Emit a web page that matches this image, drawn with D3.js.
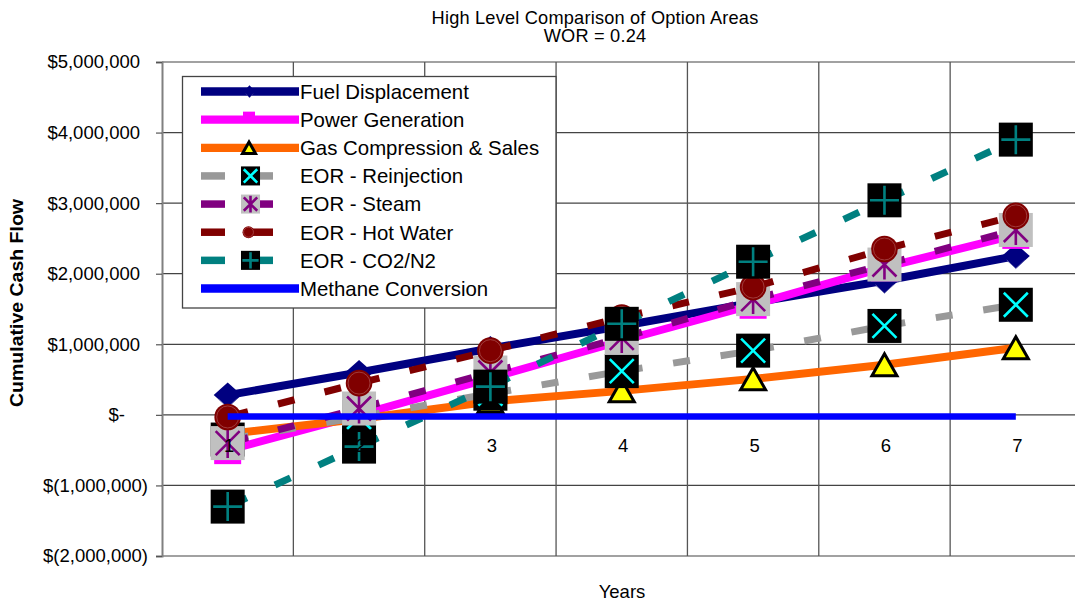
<!DOCTYPE html>
<html>
<head>
<meta charset="utf-8">
<script src="https://cdn.jsdelivr.net/npm/d3@7"></script>
<style>
  html, body { margin: 0; padding: 0; background: #fff; }
  svg { display: block; font-family: "Liberation Sans", Arial, sans-serif; }
</style>
</head>
<body>
<svg id="chart" width="1075" height="602"></svg>
<script>
// ---- data -------------------------------------------------------------
const years = [1, 2, 3, 4, 5, 6, 7];

const fuelDisplacement = [280000, 600000, 940000, 1260000, 1590000, 1900000, 2250000];
const powerGeneration  = [-500000, 0, 520000, 1050000, 1560000, 2090000, 2550000];
const gasCompression   = [-270000, -60000, 190000, 340000, 510000, 710000, 950000];
const eorReinjection   = [-350000, -30000, 300000, 620000, 910000, 1260000, 1560000];
const eorSteam         = [-400000, 90000, 600000, 1090000, 1640000, 2130000, 2620000];
const eorHotWater      = [-30000, 450000, 910000, 1380000, 1810000, 2350000, 2820000];
const eorCO2N2         = [-1300000, -450000, 400000, 1290000, 2170000, 3040000, 3900000];
const methaneConversion = [-25000, -25000, -25000, -25000, -25000, -25000, -25000];

const seriesNames = [
  "Fuel Displacement", "Power Generation", "Gas Compression & Sales",
  "EOR - Reinjection", "EOR - Steam", "EOR - Hot Water", "EOR - CO2/N2",
  "Methane Conversion"
];

const yTicks = [-2000000, -1000000, 0, 1000000, 2000000, 3000000, 4000000, 5000000];

const titleLines = ["High Level Comparison of Option Areas", "WOR = 0.24"];
const xTitle = "Years";
const yTitle = "Cumulative Cash Flow";

// ---- layout -----------------------------------------------------------
const svg = d3.select("#chart");
const plot = { left: 162, right: 1081.5, top: 62, bottom: 556 };

const x = d3.scaleBand().domain(years).range([plot.left, plot.right]).padding(0);
const y = d3.scaleLinear().domain([-2000000, 5000000]).range([plot.bottom, plot.top]);
const cx = d => x(d) + x.bandwidth() / 2;

// ---- marker painters (drawn around 0,0) -------------------------------
const markers = {
  diamond(g) {
    g.append("path").attr("d", "M0,-12.5L14,0L0,12.5L-14,0Z").attr("fill", "#000080");
    g.append("path").attr("d", "M-9,4L0,12.5L9,4").attr("fill", "none")
      .attr("stroke", "#6a6ab0").attr("stroke-width", 0.8);
  },
  dash(g) {
    g.append("rect").attr("x", -13.5).attr("y", 8).attr("width", 27).attr("height", 6)
      .attr("fill", "#ff00ff");
  },
  triangle(g) {
    g.append("path").attr("d", "M0,-11L12.5,11L-12.5,11Z").attr("fill", "#ffff00")
      .attr("stroke", "#000").attr("stroke-width", 3).attr("stroke-linejoin", "miter")
      .attr("vector-effect", "non-scaling-stroke");
  },
  crossBox(g) {
    g.append("rect").attr("x", -17).attr("y", -17).attr("width", 34).attr("height", 34).attr("fill", "#000");
    g.append("path").attr("d", "M-12,-12L12,12M12,-12L-12,12").attr("stroke", "#00ffff")
      .attr("stroke-width", 2.6).attr("vector-effect", "non-scaling-stroke");
  },
  starBox(g) {
    g.append("rect").attr("x", -17).attr("y", -17).attr("width", 34).attr("height", 34).attr("fill", "#c0c0c0");
    g.append("path").attr("d", "M-12,-12L12,12M12,-12L-12,12M0,-15L0,15").attr("stroke", "#800080")
      .attr("stroke-width", 2.6).attr("vector-effect", "non-scaling-stroke");
  },
  circle(g) {
    g.append("circle").attr("r", 13.3).attr("fill", "#800000");
    g.append("circle").attr("r", 11).attr("fill", "none").attr("stroke", "#a84a4a")
      .attr("stroke-width", 0.8).attr("vector-effect", "non-scaling-stroke");
  },
  plusBox(g) {
    g.append("rect").attr("x", -17).attr("y", -17).attr("width", 34).attr("height", 34).attr("fill", "#000");
    g.append("path").attr("d", "M-14.5,0L14.5,0M0,-14.5L0,14.5").attr("stroke", "#008080")
      .attr("stroke-width", 2.6).attr("vector-effect", "non-scaling-stroke");
  },
  none() {}
};

const series = [
  { name: seriesNames[0], values: fuelDisplacement,  color: "#000080", width: 8,   dashed: false, marker: "diamond" },
  { name: seriesNames[1], values: powerGeneration,   color: "#ff00ff", width: 8,   dashed: false, marker: "dash" },
  { name: seriesNames[2], values: gasCompression,    color: "#ff6600", width: 8,   dashed: false, marker: "triangle" },
  { name: seriesNames[3], values: eorReinjection,    color: "#999999", width: 7,   dashed: true,  marker: "crossBox" },
  { name: seriesNames[4], values: eorSteam,          color: "#800080", width: 7,   dashed: true,  marker: "starBox" },
  { name: seriesNames[5], values: eorHotWater,       color: "#800000", width: 7,   dashed: true,  marker: "circle" },
  { name: seriesNames[6], values: eorCO2N2,          color: "#008080", width: 7,   dashed: true,  marker: "plusBox" },
  { name: seriesNames[7], values: methaneConversion, color: "#0000ff", width: 6.5, dashed: false, marker: "none" }
];

// ---- gridlines & axes -------------------------------------------------
const grid = svg.append("g");
grid.selectAll("line.h").data(yTicks).join("line")
  .attr("x1", plot.left).attr("x2", 1075)
  .attr("y1", d => y(d)).attr("y2", d => y(d))
  .attr("stroke", "#444").attr("stroke-width", 1.2);

grid.selectAll("line.v").data(years).join("line")
  .attr("x1", d => x(d) + x.bandwidth()).attr("x2", d => x(d) + x.bandwidth())
  .attr("y1", plot.top).attr("y2", plot.bottom)
  .attr("stroke", "#555").attr("stroke-width", 1.3);

const moneyFmt = d3.format(",");
const yAxis = d3.axisLeft(y).tickValues(yTicks).tickSize(6).tickPadding(0)
  .tickFormat(v => v > 0 ? "$" + moneyFmt(v) : v < 0 ? "$(" + moneyFmt(-v) + ")" : "$-");
const yAxisG = svg.append("g").attr("transform", `translate(${plot.left},0)`).call(yAxis);
yAxisG.select(".domain").attr("stroke", "#808080").attr("stroke-width", 2);
yAxisG.selectAll(".tick line").attr("stroke", "#555").attr("stroke-width", 1.2);
yAxisG.selectAll(".tick text")
  .attr("font-size", 18.5).attr("fill", "#000")
  .attr("font-family", "'Liberation Sans', Arial, sans-serif")
  .attr("x", d => d > 0 ? -22 : d < 0 ? -14 : -37);

// ---- series -----------------------------------------------------------
const lineGen = d3.line().x(d => cx(d.year)).y(d => y(d.value));

series.forEach(s => {
  const pts = years.map((yr, i) => ({ year: yr, value: s.values[i] }));
  const g = svg.append("g");
  if (s.dashed) {
    // each segment restarts its dash pattern at the data point
    d3.pairs(pts).forEach(seg => {
      g.append("path").attr("d", lineGen(seg)).attr("fill", "none")
        .attr("stroke", s.color).attr("stroke-width", s.width)
        .attr("stroke-dasharray", "17 31").attr("stroke-dashoffset", 44);
    });
  } else {
    g.append("path").attr("d", lineGen(pts)).attr("fill", "none")
      .attr("stroke", s.color).attr("stroke-width", s.width)
      .attr("stroke-linejoin", "round");
  }
  pts.forEach(p => {
    const m = g.append("g").attr("transform", `translate(${cx(p.year)},${y(p.value)})`);
    markers[s.marker](m);
  });
});

// ---- category labels (sit just under the zero line) -------------------
svg.append("g").selectAll("text").data(years).join("text")
  .attr("x", d => cx(d) + 1.5).attr("y", y(0) + 37)
  .attr("text-anchor", "middle").attr("font-size", 18.5).attr("fill", "#000")
  .text(d => d);

// ---- legend -----------------------------------------------------------
const legend = svg.append("g");
legend.append("rect").attr("x", 182.5).attr("y", 76.5).attr("width", 373.5).attr("height", 231.5)
  .attr("fill", "#fff").attr("stroke", "#444").attr("stroke-width", 1.3);

const legY = d3.scaleLinear().domain([0, seriesNames.length - 1]).range([91.5, 288.5]);
series.forEach((s, i) => {
  const ly = legY(i);
  const g = legend.append("g");
  if (s.dashed) {
    [[201, 225], [250, 273]].forEach(([a, b]) =>
      g.append("line").attr("x1", a).attr("x2", b).attr("y1", ly).attr("y2", ly)
        .attr("stroke", s.color).attr("stroke-width", 7.5));
  } else {
    g.append("line").attr("x1", 201).attr("x2", 299).attr("y1", ly).attr("y2", ly)
      .attr("stroke", s.color).attr("stroke-width", 8.3);
  }
  const m = g.append("g");
  if (s.marker === "dash") {
    m.append("rect").attr("x", 243).attr("y", ly - 8).attr("width", 12).attr("height", 5).attr("fill", s.color);
  } else if (s.marker === "diamond") {
    m.attr("transform", `translate(249.5,${ly}) scale(0.42,0.5)`);
    markers.diamond(m);
  } else if (s.marker === "circle") {
    m.attr("transform", `translate(248.5,${ly}) scale(0.45)`);
    markers.circle(m);
  } else if (s.marker === "triangle") {
    m.attr("transform", `translate(249,${ly}) scale(0.52)`);
    markers.triangle(m);
  } else if (s.marker !== "none") {
    m.attr("transform", `translate(250.5,${ly}) scale(0.56)`);
    markers[s.marker](m);
  }
  g.append("text").attr("x", 300).attr("y", ly).attr("dy", "0.36em")
    .attr("font-size", 20.4).attr("fill", "#000").text(s.name);
});

// ---- titles -----------------------------------------------------------
svg.append("g").selectAll("text").data(titleLines).join("text")
  .attr("x", 595).attr("y", (d, i) => 23.5 + i * 18.5)
  .attr("text-anchor", "middle").attr("font-size", 18.2).attr("fill", "#000")
  .attr("letter-spacing", 0.2)
  .text(d => d);

svg.append("text").attr("x", 622).attr("y", 598)
  .attr("text-anchor", "middle").attr("font-size", 18.5).attr("fill", "#000")
  .text(xTitle);

svg.append("text")
  .attr("transform", "translate(23,303) rotate(-90)")
  .attr("text-anchor", "middle").attr("font-size", 18).attr("font-weight", "bold")
  .attr("textLength", 208).attr("lengthAdjust", "spacingAndGlyphs")
  .attr("fill", "#000").text(yTitle);
</script>
</body>
</html>
